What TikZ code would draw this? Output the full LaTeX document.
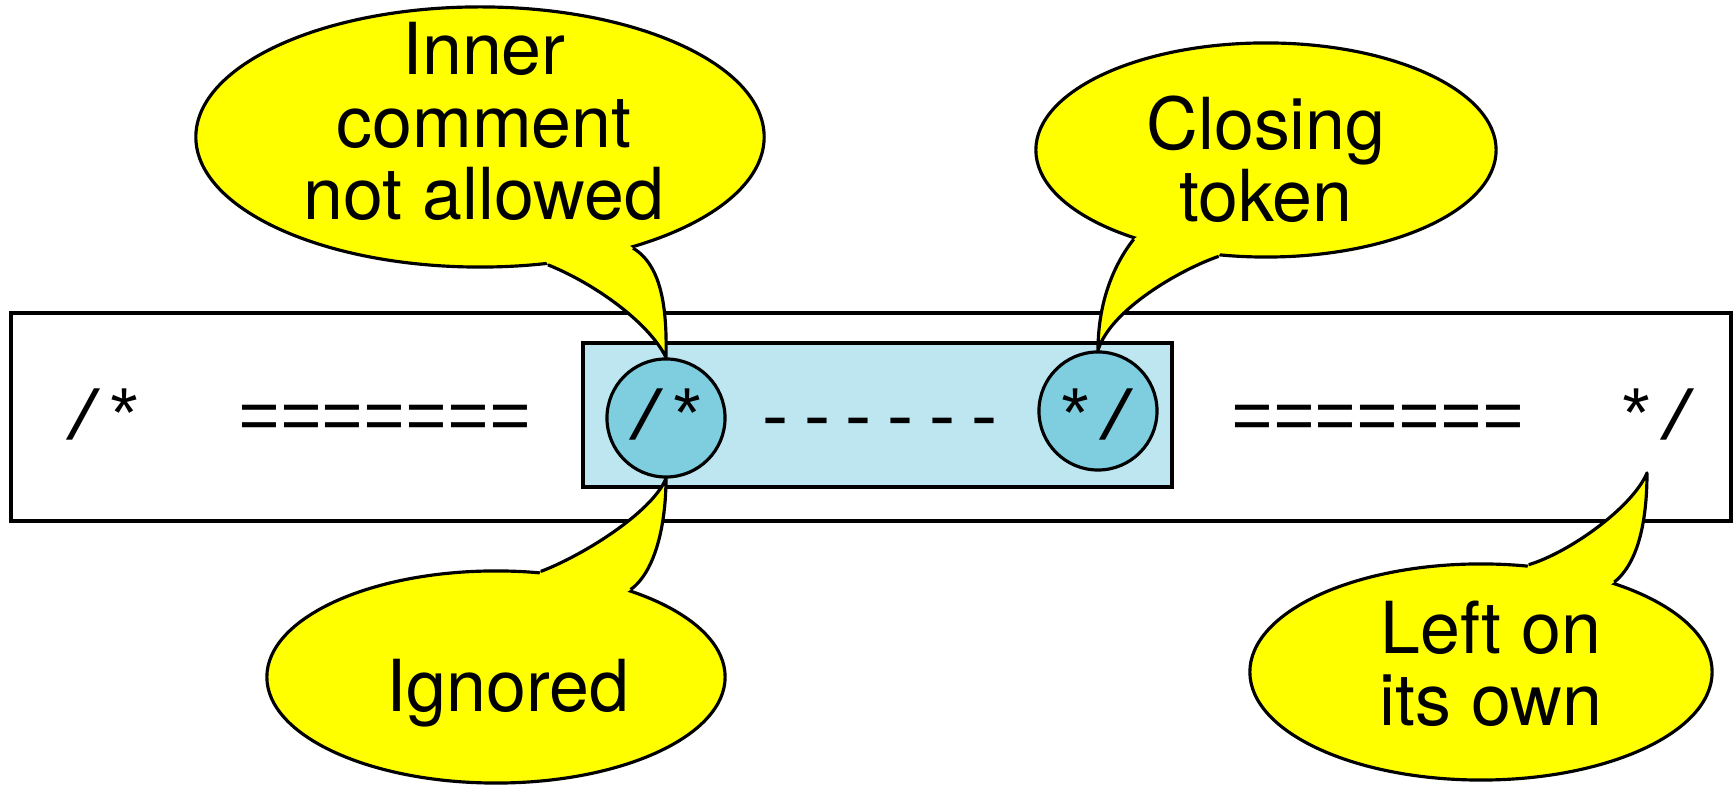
\documentclass[tikz,border=0pt]{standalone}
\usepackage{fontspec}
\setmainfont{TeX Gyre Heros}
\setmonofont{Liberation Mono}
\usepackage{tikz}
\usetikzlibrary{shapes.geometric}
\definecolor{spanblue}{RGB}{190,230,240}
\definecolor{tokblue}{RGB}{126,206,224}
\definecolor{noteyellow}{RGB}{255,255,0}

\begin{document}
\begin{tikzpicture}[x=0.01cm, y=-0.01cm,
  code/.style={font=\ttfamily\fontsize{19.9}{22}\selectfont, inner sep=0pt, anchor=base},
  talk/.style={font=\fontsize{20.4}{20.6}\selectfont, align=center, inner sep=0pt},
  bubble/.style={ellipse, draw, fill=noteyellow, line width=0.9pt, inner sep=0pt},
  tailfill/.style={fill=noteyellow},
  tailline/.style={draw, line width=0.9pt, line join=round},
  tokring/.style={circle, draw, fill=tokblue, line width=0.9pt, minimum size=1.18cm, inner sep=0pt}]
\useasboundingbox (0,0) rectangle (1735,786);
% the source line and the nested part
\draw[line width=1.2pt] (11,313) rectangle (1731,521);
\draw[line width=1.2pt, fill=spanblue] (583,343) rectangle (1172,487);
\node[tokring] (cin) at (666,418) {};
\node[tokring] (cout) at (1098,411) {};
\node[code] (open) at (104,440) {/*};
\node[code] (eqleft) at (385,440) {=======};
\node[code] (openin) at (667,440) {/*};
\node[code] (dashes) at (880,440) {------};
\node[code] (closein) at (1096,440) {*/};
\node[code] (eqright) at (1378,440) {=======};
\node[code] (stray) at (1657,440) {*/};
% callouts
\node[bubble, minimum width=5.68cm, minimum height=2.60cm] (inner) at (480,137) {};
\fill[tailfill] (inner.-62) .. controls +(45,18) and +(-18,-36) .. (cin.north)
  .. controls +(1,-45) and +(30,18) .. (inner.-36) -- (inner.center) -- cycle;
\draw[tailline] (inner.-62) .. controls +(45,18) and +(-18,-36) .. (cin.north)
  .. controls +(1,-45) and +(30,18) .. (inner.-36);
\node[bubble, minimum width=4.60cm, minimum height=2.14cm] (closing) at (1266,150) {};
\fill[tailfill] (closing.-146) .. controls +(-22,28) and +(0,-45) .. (cout.north)
  .. controls +(12,-40) and +(-40,14) .. (closing.-114) -- (closing.center) -- cycle;
\draw[tailline] (closing.-146) .. controls +(-22,28) and +(0,-45) .. (cout.north)
  .. controls +(12,-40) and +(-40,14) .. (closing.-114);
\node[bubble, minimum width=4.58cm, minimum height=2.12cm] (ignored) at (496,677) {};
\fill[tailfill] (ignored.67) .. controls +(40,-15) and +(-15,35) .. (cin.south)
  .. controls +(0,45) and +(25,-18) .. (ignored.33) -- (ignored.center) -- cycle;
\draw[tailline] (ignored.67) .. controls +(40,-15) and +(-15,35) .. (cin.south)
  .. controls +(0,45) and +(25,-18) .. (ignored.33);
\node[bubble, minimum width=4.62cm, minimum height=2.16cm] (leftown) at (1481,672) {};
\coordinate (strayend) at (1647,473);
\fill[tailfill] (leftown.66) .. controls +(40,-12) and +(-15,35) .. (strayend)
  .. controls +(0,45) and +(25,-20) .. (leftown.34) -- (leftown.center) -- cycle;
\draw[tailline] (leftown.66) .. controls +(40,-12) and +(-15,35) .. (strayend)
  .. controls +(0,45) and +(25,-20) .. (leftown.34);
\node[talk] (innertxt) at (484,121.5) {Inner\\comment\\not allowed};
\node[talk] (closingtxt) at (1266,159.5) {Closing\\token};
\node[talk, anchor=base] (ignoredtxt) at (508,712) {Ignored};
\node[talk] (leftowntxt) at (1491,664) {Left on\\its own};
\end{tikzpicture}
\end{document}
